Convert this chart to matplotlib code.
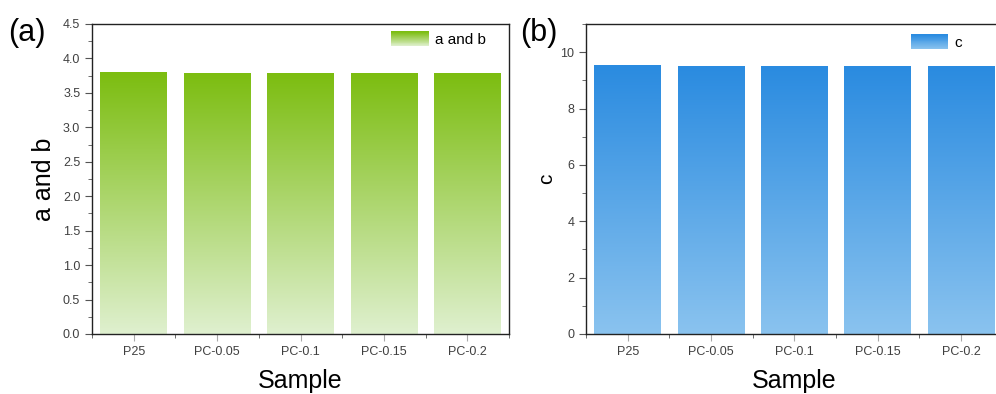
import matplotlib
matplotlib.use("Agg")
import matplotlib.pyplot as plt
import numpy as np
from matplotlib.colors import LinearSegmentedColormap, to_rgb
from matplotlib.legend_handler import HandlerBase
from matplotlib.patches import Rectangle, Patch
from matplotlib.ticker import MultipleLocator

plt.rcParams["font.family"] = ["Liberation Sans", "DejaVu Sans"]

samples = ["P25", "PC-0.05", "PC-0.1", "PC-0.15", "PC-0.2"]
a_and_b = [3.80, 3.78, 3.78, 3.78, 3.78]
c_vals = [9.52, 9.49, 9.49, 9.49, 9.49]

GREEN = ("#7cbd10", "#dff0cf")
BLUE = ("#2a8be0", "#8ac3ef")
TICK_GREY = "#404040"


class GradientHandler(HandlerBase):
    def __init__(self, top, bottom, n=30):
        super().__init__()
        self.top, self.bottom, self.n = top, bottom, n

    def create_artists(self, legend, orig, xdescent, ydescent, width, height,
                       fontsize, trans):
        t, b = np.array(to_rgb(self.top)), np.array(to_rgb(self.bottom))
        arts = []
        for i in range(self.n):
            f = i / (self.n - 1)
            col = b + (t - b) * f
            r = Rectangle((-xdescent, -ydescent + height * i / self.n),
                          width, height / self.n + 0.3, facecolor=col,
                          edgecolor="none", transform=trans)
            arts.append(r)
        return arts


def gradient_bars(ax, values, colors, ymax):
    cmap = LinearSegmentedColormap.from_list("g", [colors[1], colors[0]])
    grad = np.linspace(0, 1, 256).reshape(-1, 1)
    x = np.arange(len(values))
    for xi, v in zip(x, values):
        ax.imshow(grad, extent=(xi - 0.4, xi + 0.4, 0, v), origin="lower",
                  cmap=cmap, aspect="auto", zorder=2, interpolation="bilinear")
    ax.bar(x, values, width=0.8, facecolor="none", edgecolor="none", zorder=3)
    ax.set_xlim(-0.5, len(values) - 0.5)
    ax.set_ylim(0, ymax)
    ax.set_xticks(x)
    ax.set_xticklabels(samples)
    ax.set_xticks(np.arange(len(values) + 1) - 0.5, minor=True)


def style(ax):
    for s in ax.spines.values():
        s.set_color("#222222")
        s.set_linewidth(1.0)
    ax.tick_params(axis="both", which="major", direction="out", length=5,
                   labelsize=9, labelcolor=TICK_GREY, color="#555555")
    ax.tick_params(axis="x", which="major", color="#aaaaaa")
    ax.tick_params(axis="both", which="minor", direction="out", length=3,
                   color="#555555")
    ax.set_xlabel("Sample", fontsize=18)
    ax.xaxis.set_label_coords(0.5, -0.174)
    ax.xaxis.label.set_verticalalignment("baseline")


fig = plt.figure(figsize=(9.96, 3.94), dpi=100)
ax1 = fig.add_axes([0.0924, 0.1523, 0.4187, 0.7868])
ax2 = fig.add_axes([0.5884, 0.1523, 0.4182, 0.7868])

gradient_bars(ax1, a_and_b, GREEN, 4.5)
ax1.yaxis.set_major_locator(MultipleLocator(0.5))
ax1.yaxis.set_minor_locator(MultipleLocator(0.25))
ax1.yaxis.set_major_formatter(plt.FormatStrFormatter("%.1f"))
style(ax1)
ax1.set_ylabel("a and b", fontsize=18)
ax1.yaxis.set_label_coords(-0.086, 0.5)
h = Patch(label="a and b")
ax1.legend(handles=[h], loc="upper left", bbox_to_anchor=(0.718, 0.975),
           frameon=False, fontsize=11, handlelength=2.45, handleheight=1.1,
           handletextpad=0.4, borderpad=0, borderaxespad=0,
           handler_map={h: GradientHandler(*GREEN)})

gradient_bars(ax2, c_vals, BLUE, 11)
ax2.yaxis.set_major_locator(MultipleLocator(2))
ax2.yaxis.set_minor_locator(MultipleLocator(1))
style(ax2)
ax2.spines["right"].set_visible(False)
ax2.set_ylabel("c", fontsize=15)
ax2.yaxis.set_label_coords(-0.072, 0.5)
h2 = Patch(label="c")
ax2.legend(handles=[h2], loc="upper left", bbox_to_anchor=(0.78, 0.965),
           frameon=False, fontsize=11, handlelength=2.45, handleheight=1.05,
           handletextpad=0.4, borderpad=0, borderaxespad=0,
           handler_map={h2: GradientHandler(*BLUE)})

fig.text(0.008, 0.895, "(a)", fontsize=22)
fig.text(0.522, 0.895, "(b)", fontsize=22)

fig.savefig("out.png", dpi=100)
